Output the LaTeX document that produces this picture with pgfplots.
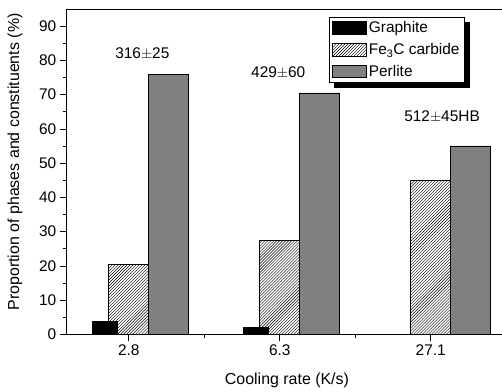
\documentclass[border=0pt]{standalone}
\usepackage{pgfplots}
\pgfplotsset{compat=1.18}
\usepackage{fontspec}
\setmainfont{Liberation Sans}
\usetikzlibrary{patterns}
\pgfplotsset{myleg/.style={legend image code/.code={\draw[##1] (0bp,-6.3bp) rectangle (34bp,6.3bp);}}}
\begin{document}
\begin{tikzpicture}
\begin{axis}[
  at={(0,0)}, anchor=south west,
  scale only axis, width=435.3bp, height=325.3bp,
  xmin=-0.411, xmax=2.472, ymin=0, ymax=95,
  xtick={0,1,2}, xticklabels={2.8,6.3,27.1},
  minor xtick={0.5,1.5},
  ytick={0,10,...,90}, minor ytick={5,15,...,85},
  tick align=outside, xtick pos=bottom, ytick pos=left,
  major tick length=7bp, minor tick length=4bp,
  tick style={black, line width=0.6pt},
  axis line style={line width=0.8pt},
  /pgf/number format/assume math mode=true,
  font=\fontsize{15.5}{18}\selectfont,
  ticklabel style={font=\fontsize{15.5}{18}\selectfont},
  xlabel={Cooling rate (K/s)},
  ylabel={Proportion of phases and constituents (\%)},
  xlabel style={at={(axis description cs:0.506,-0.141)}, anchor=center, font=\fontsize{16}{18}\selectfont},
  ylabel style={at={(axis description cs:-0.1188,0.53)}, anchor=center, font=\fontsize{16}{18}\selectfont},
  reverse legend,
  legend style={name=leg, at={(rel axis cs:0.6026,0.9754)}, anchor=north west,
    draw=black, line width=0.5pt, fill=white,
    font=\fontsize{15.5}{18}\selectfont, row sep=5bp,
    inner xsep=3bp, inner ysep=2.5bp},
  legend cell align=left,
]
\addplot[ybar, bar width=40bp, bar shift=40bp, fill=black!50, draw=black, line width=0.6pt, myleg]
  coordinates {(0,75.8) (1,70.5) (2,55)};
\addlegendentry{Perlite}
\addplot[ybar, bar width=40bp, bar shift=0bp, pattern=north east lines, draw=black, line width=0.6pt, myleg]
  coordinates {(0,20.5) (1,27.5) (2,45)};
\addlegendentry{Fe$_{\mathrm{3}}$C carbide}
\addplot[ybar, bar width=25bp, bar shift=-24bp, fill=black, draw=black, line width=0.6pt, myleg]
  coordinates {(0,3.7) (1,2.0)};
\addlegendentry{Graphite}
\node[font=\fontsize{15.5}{18}\selectfont] at (axis cs:0.09,82) {316$\pm$25};
\node[font=\fontsize{15.5}{18}\selectfont] at (axis cs:0.99,76.3) {429$\pm$60};
\node[font=\fontsize{15.5}{18}\selectfont] at (axis cs:2.075,63.4) {512$\pm$45HB};
\end{axis}
\fill[black] ([yshift=-5bp]leg.north east) rectangle ([xshift=5bp,yshift=-5bp]leg.south east);
\fill[black] ([xshift=5bp]leg.south west) rectangle ([yshift=-5bp]leg.south east);
\pgfresetboundingbox
\useasboundingbox (-66.7bp,-57.7bp) rectangle (435.3bp,334.3bp);
\end{tikzpicture}
\end{document}
